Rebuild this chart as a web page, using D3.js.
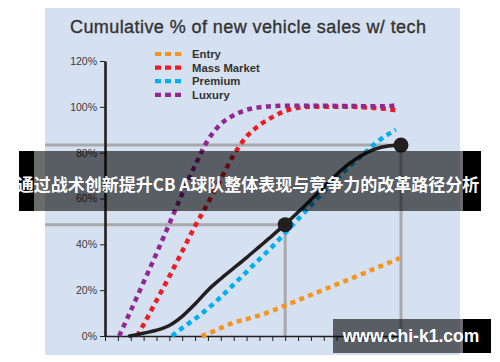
<!DOCTYPE html>
<html>
<head>
<meta charset="utf-8">
<script src="https://cdn.jsdelivr.net/npm/d3@7"></script>
<style>
html,body{margin:0;padding:0;background:#fff;}
svg{display:block;}
</style>
</head>
<body>
<svg id="chart" width="500" height="362"></svg>
<script>
// ---------- data ----------
const title = "Cumulative % of new vehicle sales w/ tech";
const seriesNames = ["Entry", "Mass Market", "Premium", "Luxury"];
const seriesColors = ["#f7941d", "#ed1c24", "#00aeef", "#92278f"];
const yTicks = [0, 20, 40, 60, 80, 100, 120];
const xTicks = d3.range(0, 24);

const entryX = [7.5, 8, 9, 10, 11, 12, 13, 14, 15, 16, 17, 18, 19, 20, 21, 22, 22.9];
const entryY = [0, 1, 3.5, 5.8, 7.4, 9, 11, 13.3, 15.6, 17.9, 20.2, 22.5, 24.8, 27.1, 29.5, 31.8, 34];

const massX = [2.5, 3, 4, 5, 6, 7, 8, 9, 10, 11, 12, 13, 14, 15, 16, 17, 18, 19, 20, 21, 22, 22.8];
const massY = [0, 5, 15.5, 26, 37, 48, 58, 68.5, 79, 87, 92, 95.5, 98.2, 99.6, 100, 100, 100, 100, 99.8, 99.5, 99, 98.3];

const premX = [5.2, 6, 7, 8, 9, 10, 11, 12, 13, 14, 15, 16, 17, 18, 19, 20, 21, 22, 22.6];
const premY = [0, 3.5, 7.5, 12, 17, 22.5, 28, 33.5, 39, 45, 51, 57, 63, 68.5, 74, 79, 84, 88, 90];

const luxX = [1.1, 2, 3, 4, 5, 6, 7, 8, 9, 10, 11, 12, 13, 14, 16, 18, 20, 22, 22.8];
const luxY = [0, 11, 23.5, 36, 49, 62, 74.5, 85.5, 92.5, 96.3, 98.7, 99.8, 100.3, 100.5, 100.5, 100.4, 100.3, 100.3, 101];

const totalX = [1.9, 3, 4, 5, 6, 7, 8, 9, 10, 11, 12, 13, 14, 15, 16, 17, 18, 19, 20, 21, 22, 23];
const totalY = [0, 1.2, 2.5, 4.6, 8.6, 14, 20, 25, 29.6, 34.2, 39, 43.8, 48.8, 54, 59.5, 65, 70.5, 75.3, 79, 81.6, 82.9, 83.3];

const markerX = [14, 23];
const markerY = [48.6, 83.3];

const bannerText = "通过战术创新提升CB A球队整体表现与竞争力的改革路径分析";
const watermarkText = "www.chi-k1.com";

// ---------- drawing ----------
const svg = d3.select("#chart");
const x = d3.scaleLinear().domain([0, 23]).range([105, 401]);
const y = d3.scaleLinear().domain([0, 120]).range([336, 61]);

// panel
svg.append("rect").attr("x", 45).attr("y", 8).attr("width", 415).attr("height", 347).attr("fill", "#d5e0f0");

// title
svg.append("text").attr("x", 70).attr("y", 33)
  .attr("font-family", "Liberation Sans, Arial, sans-serif").attr("font-size", 18)
  .attr("letter-spacing", 0.42).attr("stroke", "#333").attr("stroke-width", 0.35)
  .attr("fill", "#333").text(title);

// reference lines
const markers = markerX.map((v, i) => ({x: v, y: markerY[i]}));
const ref = svg.append("g").attr("stroke", "#a7a9ac").attr("stroke-width", 3).attr("fill", "none");
markers.forEach(m => {
  ref.append("line").attr("x1", 45).attr("x2", x(m.x)).attr("y1", y(m.y)).attr("y2", y(m.y));
  ref.append("line").attr("x1", x(m.x)).attr("x2", x(m.x)).attr("y1", y(m.y)).attr("y2", y(0));
});

// axes
const yAxis = svg.append("g").attr("transform", `translate(${x(0)},0)`)
  .call(d3.axisLeft(y).tickValues(yTicks).tickSize(5).tickSizeOuter(0).tickFormat(d => d + "%"));
yAxis.select(".domain").attr("stroke", "#231f20").attr("stroke-width", 2.6);
yAxis.selectAll(".tick line").attr("stroke", "#231f20").attr("stroke-width", 1);
yAxis.selectAll(".tick text").attr("font-family", "Liberation Sans, Arial, sans-serif")
  .attr("font-size", 10.5).attr("fill", "#3a3a3a").attr("x", -8);

const xAxis = svg.append("g").attr("transform", `translate(0,${y(0)})`)
  .call(d3.axisBottom(x).tickValues(xTicks).tickSize(5).tickSizeOuter(0).tickFormat(""));
xAxis.select(".domain").attr("stroke", "#231f20").attr("stroke-width", 1.5);
xAxis.selectAll(".tick line").attr("stroke", "#231f20").attr("stroke-width", 1);

// series
const line = d3.line().x(d => x(d[0])).y(d => y(d[1])).curve(d3.curveMonotoneX);
const dashed = [
  {name: seriesNames[0], color: seriesColors[0], pts: d3.zip(entryX, entryY)},
  {name: seriesNames[1], color: seriesColors[1], pts: d3.zip(massX, massY)},
  {name: seriesNames[2], color: seriesColors[2], pts: d3.zip(premX, premY)},
  {name: seriesNames[3], color: seriesColors[3], pts: d3.zip(luxX, luxY)}
];
svg.append("g").selectAll("path").data(dashed).join("path")
  .attr("d", d => line(d.pts)).attr("fill", "none").attr("stroke", d => d.color)
  .attr("stroke-width", 4.5).attr("stroke-dasharray", "5,4.5");

svg.append("path").attr("d", line(d3.zip(totalX, totalY))).attr("fill", "none")
  .attr("stroke", "#231f20").attr("stroke-width", 3.5).attr("stroke-linecap", "round");

svg.append("g").selectAll("circle").data(markers).join("circle")
  .attr("cx", d => x(d.x)).attr("cy", d => y(d.y)).attr("r", 7.5).attr("fill", "#231f20");

// legend
const legend = svg.append("g");
dashed.forEach((s, i) => {
  const ly = 54 + i * 13.6;
  legend.append("line").attr("x1", 155).attr("x2", 184).attr("y1", ly).attr("y2", ly)
    .attr("stroke", s.color).attr("stroke-width", 4.2).attr("stroke-dasharray", "6,4");
  legend.append("text").attr("x", 192).attr("y", ly).attr("dy", "0.36em")
    .attr("font-family", "Liberation Sans, Arial, sans-serif").attr("font-size", 11.3)
    .attr("font-weight", "bold").attr("fill", "#333").text(s.name);
});

// banner overlay
svg.append("rect").attr("x", 19).attr("y", 151).attr("width", 15).attr("height", 60).attr("fill", "#000");
svg.append("rect").attr("x", 463).attr("y", 151).attr("width", 18).attr("height", 60).attr("fill", "#000");
svg.append("rect").attr("x", 34).attr("y", 151).attr("width", 429).attr("height", 60).attr("fill", "rgba(0,0,0,0.58)");
svg.append("text").attr("x", 248).attr("y", 185).attr("dy", "0.36em").attr("text-anchor", "middle")
  .attr("font-family", "Noto Sans CJK SC, sans-serif").attr("font-weight", "bold").attr("font-size", 17)
  .attr("fill", "#fff").text(bannerText);

// watermark
svg.append("rect").attr("x", 463).attr("y", 319).attr("width", 28).attr("height", 34).attr("fill", "#000");
svg.append("rect").attr("x", 333).attr("y", 319).attr("width", 130).attr("height", 34).attr("fill", "rgba(0,0,0,0.58)");
svg.append("text").attr("x", 411).attr("y", 336).attr("dy", "0.36em").attr("text-anchor", "middle")
  .attr("font-family", "Liberation Sans, Arial, sans-serif").attr("font-weight", "bold").attr("font-size", 17.5)
  .attr("fill", "#fff").text(watermarkText);
</script>
</body>
</html>
